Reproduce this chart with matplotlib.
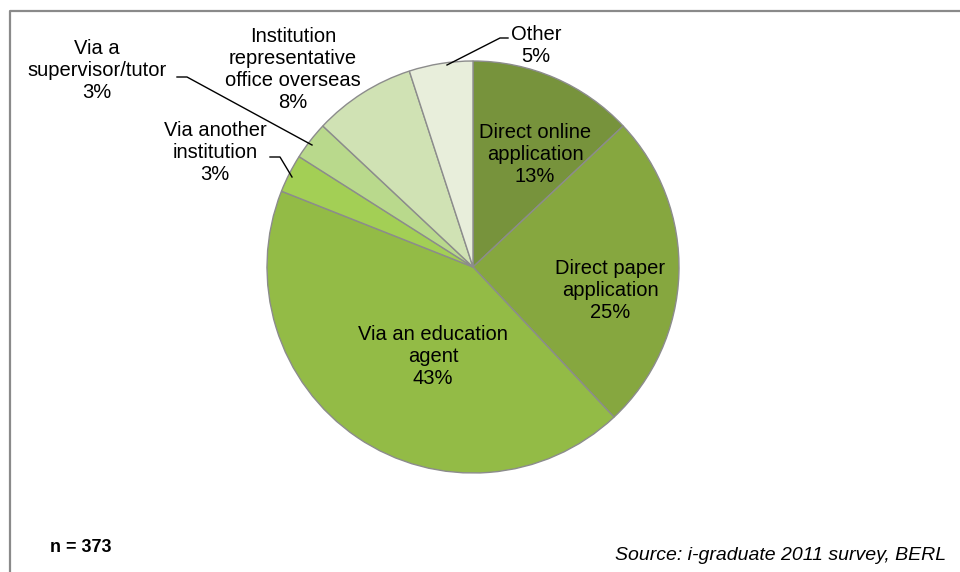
import matplotlib
matplotlib.use("Agg")
from matplotlib import pyplot as plt

# Data
labels = ["Direct online\napplication", "Direct paper\napplication",
          "Via an education\nagent", "Via another\ninstitution",
          "Via a\nsupervisor/tutor", "Institution\nrepresentative\noffice overseas",
          "Other"]
values = [13, 25, 43, 3, 3, 8, 5]
colors = ["#77933c", "#86a73f", "#93bb46", "#a3cf55", "#b9d98c", "#d0e2b4", "#e8eedb"]

H = 572

def fy(y):
    # image pixel y -> axes y
    return H - y

plt.rcParams['font.family'] = ['Liberation Sans', 'DejaVu Sans']

fig = plt.figure(figsize=(9.6, 5.72), dpi=100)
ax = fig.add_axes([0, 0, 1, 1])

wedges, _ = ax.pie(values, colors=colors, startangle=90, counterclock=False,
                   center=(473, fy(267)), radius=206,
                   wedgeprops=dict(edgecolor="#8c8c8c", linewidth=1.0))
ax.set_xlim(0, 960)
ax.set_ylim(0, H)
ax.set_aspect("equal")
ax.axis("off")

# label positions (pixel coords of text block centre)
label_pos = [(535, 154), (610, 290), (433, 357), (215, 153),
             (97, 71), (293, 69), (536, 45)]
for lab, v, (x, y) in zip(labels, values, label_pos):
    ax.text(x, fy(y), f"{lab}\n{v}%", ha="center", va="center",
            fontsize=14.5, linespacing=1.2, color="black")

# leader lines
ax.plot([447, 500, 508], [fy(65), fy(38), fy(38)], color="black", lw=1)
ax.plot([177, 187, 312], [fy(77), fy(77), fy(145)], color="black", lw=1)
ax.plot([270, 280, 292], [fy(157), fy(157), fy(177)], color="black", lw=1)

# border
ax.plot([9.5, 9.5, 960], [0, fy(10.5), fy(10.5)], color="#8a8a8a", lw=1.6)

ax.text(50, fy(547), "n = 373", fontsize=13, fontweight="bold",
        ha="left", va="center")
ax.text(946, fy(556), "Source: i-graduate 2011 survey, BERL", fontsize=14,
        style="italic", ha="right", va="center")

fig.savefig("out.png", dpi=100)
